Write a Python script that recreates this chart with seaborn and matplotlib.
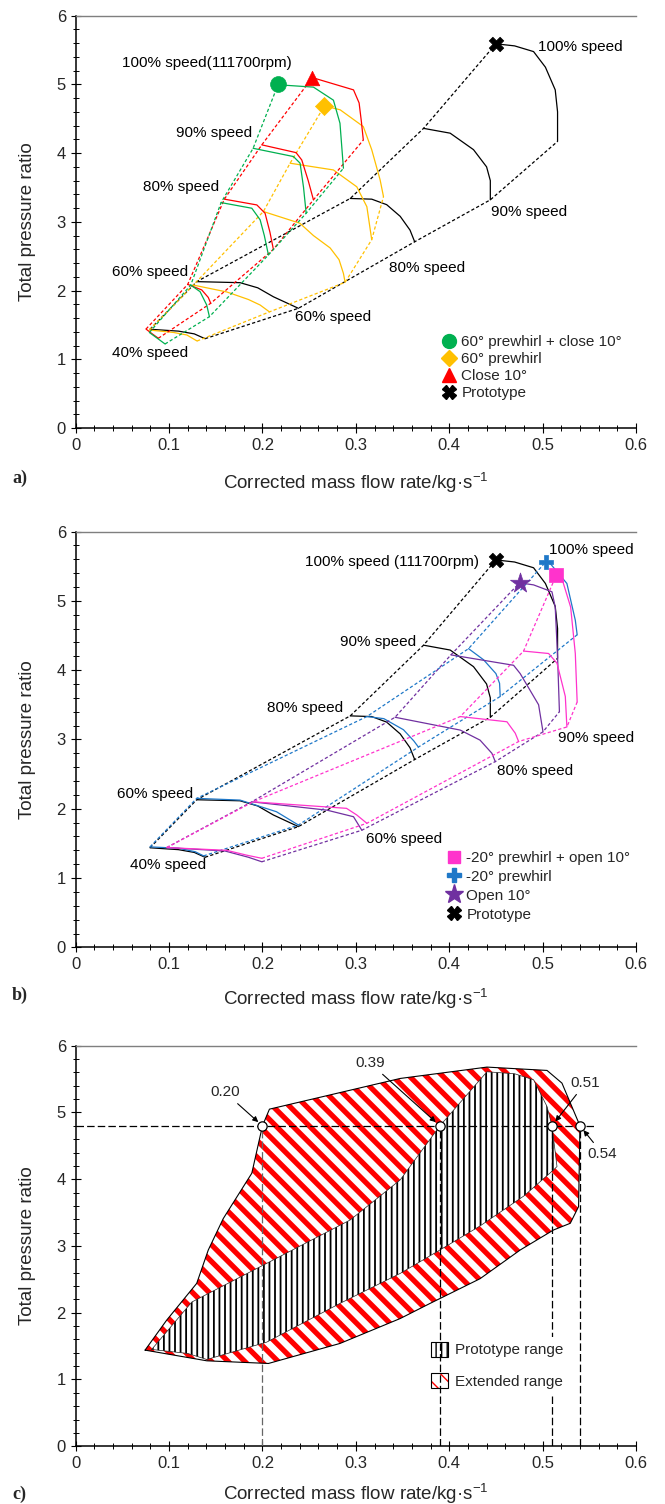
import matplotlib
matplotlib.use("Agg")
import matplotlib.pyplot as plt
import seaborn as sns
from matplotlib.lines import Line2D
from matplotlib.patches import Patch
from matplotlib.ticker import MultipleLocator

# ---------------------------------------------------------------------------
# Compressor map data: each configuration holds one list per speed line
# (40 %, 60 %, 80 %, 90 %, 100 %), mass flow x / pressure ratio y.
# ---------------------------------------------------------------------------
speeds = ["40%", "60%", "80%", "90%", "100%"]

proto_x = [[0.0796, 0.110, 0.127, 0.1385],
           [0.1296, 0.176, 0.195, 0.2117, 0.2385],
           [0.294, 0.317, 0.333, 0.3475, 0.358, 0.363],
           [0.3725, 0.401, 0.426, 0.440, 0.444, 0.444],
           [0.450, 0.470, 0.4903, 0.503, 0.5135, 0.516, 0.516]]
proto_y = [[1.437, 1.41, 1.37, 1.30],
           [2.13, 2.115, 2.04, 1.91, 1.742],
           [3.34, 3.33, 3.25, 3.08, 2.88, 2.71],
           [4.36, 4.29, 4.05, 3.80, 3.60, 3.32],
           [5.59, 5.56, 5.477, 5.25, 4.92, 4.60, 4.17]]

pw60_close_x = [[0.0789, 0.088, 0.0957],
                [0.1232, 0.1332, 0.1403, 0.1432],
                [0.1557, 0.1886, 0.1975, 0.2020, 0.2064],
                [0.190, 0.2332, 0.2403, 0.2440, 0.2468],
                [0.2168, 0.2214, 0.2546, 0.276, 0.283, 0.2867]]
pw60_close_y = [[1.39, 1.30, 1.223],
                [2.08, 1.984, 1.79, 1.62],
                [3.28, 3.198, 3.03, 2.80, 2.518],
                [4.07, 3.95, 3.853, 3.50, 3.125],
                [5.00, 4.99, 4.96, 4.77, 4.435, 3.78]]

pw60_x = [[0.0789, 0.105, 0.119, 0.130],
          [0.126, 0.1618, 0.185, 0.1975, 0.2075],
          [0.201, 0.240, 0.2546, 0.2725, 0.282, 0.2867, 0.2885],
          [0.2296, 0.276, 0.301, 0.3118, 0.317],
          [0.2664, 0.2832, 0.308, 0.317, 0.326, 0.3296]]
pw60_y = [[1.426, 1.39, 1.354, 1.266],
          [2.08, 1.98, 1.87, 1.79, 1.69],
          [3.15, 2.98, 2.80, 2.62, 2.45, 2.25, 2.12],
          [3.853, 3.755, 3.51, 3.22, 2.74],
          [4.687, 4.63, 4.386, 4.05, 3.61, 3.367]]

close10_x = [[0.0753, 0.082, 0.0885],
             [0.120, 0.135, 0.142, 0.1446],
             [0.1592, 0.194, 0.2028, 0.208, 0.2117],
             [0.1993, 0.236, 0.2421, 0.249, 0.2546],
             [0.2535, 0.258, 0.2975, 0.3035, 0.306, 0.308]]
close10_y = [[1.44, 1.37, 1.306],
             [2.09, 2.009, 1.90, 1.815],
             [3.33, 3.246, 3.125, 2.85, 2.60],
             [4.12, 4.007, 3.90, 3.60, 3.32],
             [5.10, 5.08, 4.92, 4.73, 4.45, 4.19]]

pwm20_x = [[0.0796, 0.110, 0.128, 0.137],
           [0.1296, 0.176, 0.215, 0.2385],
           [0.3118, 0.330, 0.351, 0.362, 0.367],
           [0.4207, 0.4367, 0.450, 0.4539, 0.4546],
           [0.5036, 0.508, 0.526, 0.535, 0.537]]
pwm20_y = [[1.45, 1.43, 1.38, 1.32],
           [2.15, 2.125, 1.957, 1.765],
           [3.33, 3.30, 3.14, 2.98, 2.89],
           [4.31, 4.15, 3.95, 3.81, 3.62],
           [5.565, 5.54, 5.25, 4.72, 4.51]]

open10_x = [[0.0975, 0.160, 0.185, 0.1993],
            [0.1886, 0.269, 0.2975, 0.3064],
            [0.342, 0.4118, 0.433, 0.4457, 0.4493],
            [0.4018, 0.4689, 0.476, 0.4957, 0.5004],
            [0.4753, 0.4903, 0.510, 0.5135, 0.516, 0.518]]
open10_y = [[1.44, 1.39, 1.30, 1.235],
            [2.10, 1.98, 1.885, 1.69],
            [3.32, 3.135, 2.99, 2.80, 2.68],
            [4.22, 4.07, 3.95, 3.50, 3.11],
            [5.26, 5.23, 5.13, 4.91, 4.20, 3.40]]

pwm20_open_x = [[0.0975, 0.1618, 0.1832, 0.1993],
                [0.190, 0.290, 0.301, 0.3118],
                [0.4118, 0.4618, 0.4707, 0.4743],
                [0.4796, 0.5064, 0.5154, 0.5243, 0.526],
                [0.5146, 0.5207, 0.530, 0.535, 0.537]]
pwm20_open_y = [[1.44, 1.40, 1.33, 1.285],
                [2.10, 2.006, 1.91, 1.79],
                [3.33, 3.255, 3.09, 2.97],
                [4.275, 4.24, 4.10, 3.62, 3.18],
                [5.37, 5.32, 4.91, 4.24, 3.54]]

# Operating range envelopes (panel c)
extended_x = [0.0743, 0.0975, 0.1296, 0.142, 0.158, 0.1886, 0.20, 0.2075,
              0.3476, 0.4404, 0.5047, 0.5207, 0.54, 0.5385, 0.5296, 0.5117,
              0.476, 0.433, 0.3795, 0.3476, 0.283, 0.2064, 0.1404]
extended_y = [1.44, 1.89, 2.44, 2.94, 3.41, 4.09, 4.80, 5.05,
              5.51, 5.68, 5.63, 5.44, 4.80, 3.59, 3.34, 3.24,
              2.94, 2.51, 2.14, 1.914, 1.54, 1.24, 1.28]
prototype_x = [0.0814, 0.1243, 0.2046, 0.294, 0.3475, 0.39, 0.4404, 0.470,
               0.4903, 0.5047, 0.51, 0.5154, 0.5117, 0.480, 0.433, 0.39,
               0.3476, 0.283, 0.2046, 0.1404, 0.120]
prototype_y = [1.45, 2.16, 2.74, 3.39, 3.99, 4.80, 5.61, 5.58,
               5.49, 5.09, 4.80, 4.19, 4.14, 3.75, 3.30, 2.94,
               2.59, 2.14, 1.56, 1.30, 1.39]

ratio_level = 4.8
ratio_flows = [0.20, 0.39, 0.51, 0.54]
ratio_labels = ["0.20", "0.39", "0.51", "0.54"]

# ---------------------------------------------------------------------------
sns.set_theme(style="white")
plt.rcParams["font.family"] = ["Liberation Sans", "DejaVu Sans"]
plt.rcParams["mathtext.default"] = "regular"

GREEN, ORANGE, RED = "#00B050", "#FFC000", "#FF0000"
BLUE, PURPLE, PINK = "#1F78C8", "#7030A0", "#FF33CC"
DASH = (0, (2.6, 1.8))
RED_HATCH, RED_HATCH_LW = "\\\\", 3.8
BLACK_HATCH, BLACK_HATCH_LW = "|||", 1.3

fig = plt.figure(figsize=(6.65, 15.04), dpi=100)
L, W = 0.1138, 0.8426
ax_a = fig.add_axes([L, 0.7154, W, 0.2742])
ax_b = fig.add_axes([L, 0.3701, W, 0.2765])
ax_c = fig.add_axes([L, 0.0384, W, 0.2663])


def style_axes(ax, xpad):
    ax.set_xlim(0, 0.6)
    ax.set_ylim(0, 6)
    ax.xaxis.set_major_locator(MultipleLocator(0.1))
    ax.xaxis.set_minor_locator(MultipleLocator(0.02))
    ax.yaxis.set_major_locator(MultipleLocator(1))
    ax.yaxis.set_minor_locator(MultipleLocator(0.2))
    ax.set_xticks([0, 0.1, 0.2, 0.3, 0.4, 0.5, 0.6])
    ax.set_xticklabels(["0", "0.1", "0.2", "0.3", "0.4", "0.5", "0.6"])
    ax.tick_params(which="major", direction="inout", length=7, width=0.8,
                   labelsize=12, color="black", bottom=True, left=True)
    ax.tick_params(which="minor", direction="inout", length=4.5, width=0.7,
                   color="black", bottom=True, left=True)
    for s in ("left", "bottom"):
        ax.spines[s].set_color("black")
        ax.spines[s].set_linewidth(1.1)
    ax.spines["top"].set_color("#7f7f7f")
    ax.spines["top"].set_linewidth(1.0)
    ax.spines["right"].set_visible(False)
    ax.set_xlabel("Corrected mass flow rate/kg·s$^{-1}$", fontsize=13.5, labelpad=xpad)
    ax.set_ylabel("Total pressure ratio", fontsize=13.5, labelpad=15)
    ax.grid(False)


def draw_map(ax, xs, ys, color, marker, msize, zo=2):
    for x, y in zip(xs, ys):
        sns.lineplot(x=x, y=y, sort=False, estimator=None, color=color,
                     lw=0.9, ax=ax, legend=False, zorder=zo)
    surge_x = [x[0] for x in xs]
    surge_y = [y[0] for y in ys]
    choke_x = [x[-1] for x in xs]
    choke_y = [y[-1] for y in ys]
    sns.lineplot(x=surge_x, y=surge_y, sort=False, estimator=None, color=color,
                 lw=0.9, linestyle=DASH, ax=ax, legend=False, zorder=zo)
    sns.lineplot(x=choke_x, y=choke_y, sort=False, estimator=None, color=color,
                 lw=0.9, linestyle=DASH, ax=ax, legend=False, zorder=zo)
    sns.scatterplot(x=[xs[-1][0]], y=[ys[-1][0]], marker=marker, s=msize,
                    color=color, edgecolor=color, linewidth=0.5, ax=ax,
                    legend=False, zorder=zo + 3)


def hatched_patch(facecolor, hatchcolor, hatch, hlw, lw=0):
    with plt.rc_context({"hatch.linewidth": hlw}):
        p = Patch(facecolor=facecolor, edgecolor=hatchcolor, hatch=hatch, linewidth=lw)
    if hasattr(p, "set_hatch_linewidth"):
        p.set_hatch_linewidth(hlw)
    return p


# ------------------------------ panel a -----------------------------------
draw_map(ax_a, proto_x, proto_y, "black", "X", 110)
draw_map(ax_a, pw60_x, pw60_y, ORANGE, "D", 85)
draw_map(ax_a, close10_x, close10_y, RED, "^", 110)
draw_map(ax_a, pw60_close_x, pw60_close_y, GREEN, "o", 130)
style_axes(ax_a, 13)

txt = dict(fontsize=11, ha="left", va="center", color="black")
ax_a.text(0.0496, 5.31, "100% speed(111700rpm)", **txt)
ax_a.text(0.1076, 4.29, "90% speed", **txt)
ax_a.text(0.0725, 3.50, "80% speed", **txt)
ax_a.text(0.0386, 2.275, "60% speed", **txt)
ax_a.text(0.0386, 1.087, "40% speed", **txt)
ax_a.text(0.235, 1.61, "60% speed", **txt)
ax_a.text(0.335, 2.33, "80% speed", **txt)
ax_a.text(0.4446, 3.15, "90% speed", **txt)
ax_a.text(0.4946, 5.54, "100% speed", **txt)

handles_a = [
    Line2D([], [], ls="", marker="o", ms=10, color=GREEN),
    Line2D([], [], ls="", marker="D", ms=8.5, color=ORANGE),
    Line2D([], [], ls="", marker="^", ms=10, color=RED),
    Line2D([], [], ls="", marker="X", ms=10, color="black"),
]
labels_a = ["60° prewhirl + close 10°", "60° prewhirl", "Close 10°", "Prototype"]
ax_a.legend(handles_a, labels_a, loc="upper left", bbox_to_anchor=(0.653, 0.225),
            frameon=False, fontsize=11, handlelength=1.0, handletextpad=0.3,
            labelspacing=0.2, borderpad=0, borderaxespad=0)

# ------------------------------ panel b -----------------------------------
draw_map(ax_b, proto_x, proto_y, "black", "X", 110)
draw_map(ax_b, pwm20_x, pwm20_y, BLUE, "P", 110)
draw_map(ax_b, open10_x, open10_y, PURPLE, "*", 230)
draw_map(ax_b, pwm20_open_x, pwm20_open_y, PINK, "s", 95)
style_axes(ax_b, 11)

ax_b.text(0.2457, 5.564, "100% speed (111700rpm)", **txt)
ax_b.text(0.5064, 5.73, "100% speed", **txt)
ax_b.text(0.283, 4.41, "90% speed", **txt)
ax_b.text(0.2046, 3.45, "80% speed", **txt)
ax_b.text(0.0446, 2.22, "60% speed", **txt)
ax_b.text(0.0582, 1.19, "40% speed", **txt)
ax_b.text(0.311, 1.563, "60% speed", **txt)
ax_b.text(0.451, 2.544, "80% speed", **txt)
ax_b.text(0.517, 3.016, "90% speed", **txt)

handles_b = [
    Line2D([], [], ls="", marker="s", ms=9, color=PINK),
    Line2D([], [], ls="", marker="P", ms=10, color=BLUE),
    Line2D([], [], ls="", marker="*", ms=14, color=PURPLE),
    Line2D([], [], ls="", marker="X", ms=10, color="black"),
]
labels_b = ["-20° prewhirl + open 10°", "-20° prewhirl", "Open 10°", "Prototype"]
ax_b.legend(handles_b, labels_b, loc="upper left", bbox_to_anchor=(0.662, 0.232),
            frameon=False, fontsize=11, handlelength=1.0, handletextpad=0.3,
            labelspacing=0.32, borderpad=0, borderaxespad=0)

# ------------------------------ panel c -----------------------------------
with plt.rc_context({"hatch.linewidth": RED_HATCH_LW}):
    ext = ax_c.fill(extended_x, extended_y, facecolor="white", edgecolor=RED,
                    hatch=RED_HATCH, linewidth=0, zorder=1)[0]
    if hasattr(ext, "set_hatch_linewidth"):
        ext.set_hatch_linewidth(RED_HATCH_LW)
with plt.rc_context({"hatch.linewidth": BLACK_HATCH_LW}):
    pro = ax_c.fill(prototype_x, prototype_y, facecolor="white", edgecolor="black",
                    hatch=BLACK_HATCH, linewidth=0, zorder=2)[0]
    if hasattr(pro, "set_hatch_linewidth"):
        pro.set_hatch_linewidth(BLACK_HATCH_LW)

sns.lineplot(x=extended_x + extended_x[:1], y=extended_y + extended_y[:1],
             sort=False, estimator=None, color="black", lw=0.8, ax=ax_c,
             legend=False, zorder=3)
sns.lineplot(x=prototype_x + prototype_x[:1], y=prototype_y + prototype_y[:1],
             sort=False, estimator=None, color="#222222", lw=0.5, ax=ax_c,
             legend=False, zorder=3)

DASH_C = (0, (6, 2.5))
ax_c.axhline(ratio_level, xmin=0, xmax=0.555 / 0.6, color="black", lw=0.9,
             ls=DASH_C, zorder=4)
for fx, lab in zip(ratio_flows, ratio_labels):
    col = "#666666" if lab == "0.20" else "black"
    zo = 4 if lab == "0.51" else 6
    ax_c.vlines(fx, 0, ratio_level, color=col, lw=0.9, linestyles=[DASH_C], zorder=zo)
sns.scatterplot(x=ratio_flows, y=[ratio_level] * len(ratio_flows), s=45,
                color="white", edgecolor="black", linewidth=0.9, ax=ax_c,
                legend=False, zorder=7)

label_pos = {"0.20": (0.160, 5.30), "0.39": (0.3153, 5.74),
             "0.51": (0.5457, 5.44), "0.54": (0.5642, 4.38)}
for fx, lab in zip(ratio_flows, ratio_labels):
    ax_c.annotate(lab, xy=(fx, ratio_level), xytext=label_pos[lab],
                  fontsize=11, ha="center", va="center", zorder=8,
                  arrowprops=dict(arrowstyle="-|>", color="black", lw=0.8,
                                  mutation_scale=8, shrinkA=1, shrinkB=4))
style_axes(ax_c, 8)

h_proto_fill = hatched_patch("white", "black", BLACK_HATCH, BLACK_HATCH_LW)
h_ext_fill = hatched_patch("white", RED, RED_HATCH, RED_HATCH_LW)
h_edge = Patch(facecolor="none", edgecolor="black", linewidth=0.8)
leg_c = ax_c.legend([(h_proto_fill, h_edge), (h_ext_fill, h_edge)],
                    ["Prototype range", "Extended range"],
                    loc="upper left", bbox_to_anchor=(0.626, 0.272),
                    frameon=True, facecolor="white", edgecolor="none",
                    framealpha=1, fancybox=False, fontsize=11,
                    handlelength=1.1, handleheight=1.1, handletextpad=0.5,
                    labelspacing=1.05, borderpad=0.3, borderaxespad=0)
leg_c.set_zorder(5)

# panel tags
for y, tag in [(478, "a)"), (995, "b)"), (1494, "c)")]:
    fig.text(0.018, 1 - y / 1504, tag, fontsize=13, fontweight="bold",
             family="Liberation Serif", ha="left", va="center")

fig.savefig("out.png", dpi=100)
